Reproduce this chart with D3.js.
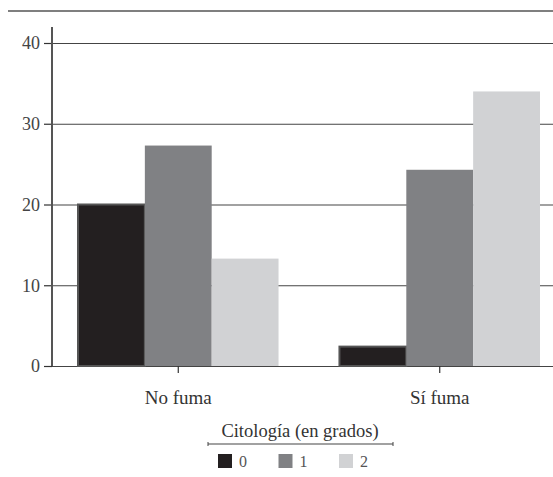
<!DOCTYPE html>
<html lang="es">
<head>
    <meta charset="UTF-8" />
    <title>Citología por consumo de tabaco</title>
    <script src="https://d3js.org/d3.v7.min.js"></script>
    <style>
        body { margin: 0; background: #fff; }
    </style>
</head>
<body>
    <div id="container"></div>
    <script>
        const groups = ["No fuma", "Sí fuma"]
        const grades = ["0", "1", "2"]
        const noFuma = [20, 27.3, 13.3]
        const siFuma = [2.4, 24.3, 34]
        const yTicks = [0, 10, 20, 30, 40]
        const colors = ["#231f20", "#808184", "#d1d2d4"]

        const values = [noFuma, siFuma]
        const serif = "'Liberation Serif', 'DejaVu Serif', serif"

        const width = 553
        const height = 477
        const margin = { top: 43, right: 13, bottom: 111, left: 52 }

        const svg = d3.select("#container")
            .append("svg")
            .attr("width", width)
            .attr("height", height)
            .style("font-family", serif)

        const x = d3.scaleBand()
            .domain(groups)
            .range([78, width - margin.right])
            .paddingInner(0.233)
            .paddingOuter(0)

        const xSub = d3.scaleBand()
            .domain(grades)
            .range([0, x.bandwidth()])

        const y = d3.scaleLinear()
            .domain([0, 40])
            .range([height - margin.bottom, margin.top])

        // top rule
        svg.append("line")
            .attr("x1", 8).attr("x2", width)
            .attr("y1", 11).attr("y2", 11)
            .attr("stroke", "#555").attr("stroke-width", 1.5)

        // gridlines + y axis
        const yAxis = g => g
            .attr("transform", `translate(${margin.left},0)`)
            .call(d3.axisLeft(y).tickValues(yTicks).tickSize(8).tickPadding(4))
            .attr("font-family", serif)
            .call(g => g.select(".domain").remove())
            .call(g => g.selectAll(".tick line").attr("stroke", "#333").attr("stroke-width", 1.2))
            .call(g => g.selectAll(".tick text")
                .style("font-size", "18px")
                .attr("fill", "#444"))
            .call(g => g.selectAll(".tick").append("line")
                .attr("x1", 0).attr("x2", width - margin.left)
                .attr("stroke", "#444").attr("stroke-width", 1.2))

        svg.append("g").call(yAxis)

        svg.append("line")
            .attr("x1", margin.left).attr("x2", margin.left)
            .attr("y1", 27).attr("y2", y(0))
            .attr("stroke", "#555").attr("stroke-width", 2)

        // bars
        groups.forEach((grp, gi) => {
            const gEl = svg.append("g")
                .attr("transform", `translate(${x(grp)},0)`)
            gEl.selectAll("rect")
                .data(values[gi])
                .join("rect")
                .attr("x", (d, i) => xSub(grades[i]))
                .attr("y", d => y(d))
                .attr("width", xSub.bandwidth())
                .attr("height", d => y(0) - y(d))
                .attr("fill", (d, i) => colors[i])
                .attr("stroke", (d, i) => i === 0 ? "#555" : "none")
                .attr("stroke-width", 2)
        })

        // x axis ticks and labels
        const xAxis = g => g
            .attr("transform", `translate(0,${y(0)})`)
            .call(d3.axisBottom(x).tickSize(7).tickPadding(18))
            .attr("font-family", serif)
            .call(g => g.select(".domain").remove())
            .call(g => g.selectAll(".tick line").attr("stroke", "#333").attr("stroke-width", 1.2))
            .call(g => g.selectAll(".tick text")
                .style("font-size", "19px")
                .attr("fill", "#333"))

        svg.append("g").call(xAxis)

        // legend
        const legend = svg.append("g")
        legend.append("text")
            .attr("x", 300)
            .attr("y", 437)
            .attr("text-anchor", "middle")
            .style("font-size", "18.5px")
            .attr("fill", "#333")
            .text("Citología (en grados)")

        legend.append("line")
            .attr("x1", 208).attr("x2", 393)
            .attr("y1", 444).attr("y2", 444)
            .attr("stroke", "#444").attr("stroke-width", 1.2)
        legend.selectAll("line.end")
            .data([208, 393])
            .join("line")
            .attr("class", "end")
            .attr("x1", d => d).attr("x2", d => d)
            .attr("y1", 442).attr("y2", 446)
            .attr("stroke", "#444")

        const legendX = d3.scalePoint()
            .domain(grades)
            .range([218, 339])

        legend.selectAll("rect")
            .data(grades)
            .join("rect")
            .attr("x", d => legendX(d))
            .attr("y", 454)
            .attr("width", 14)
            .attr("height", 14)
            .attr("fill", (d, i) => colors[i])

        legend.selectAll("text.lab")
            .data(grades)
            .join("text")
            .attr("class", "lab")
            .attr("x", d => legendX(d) + 21)
            .attr("y", 467)
            .style("font-size", "16px")
            .attr("fill", "#555")
            .text(d => d)
    </script>
</body>
</html>
